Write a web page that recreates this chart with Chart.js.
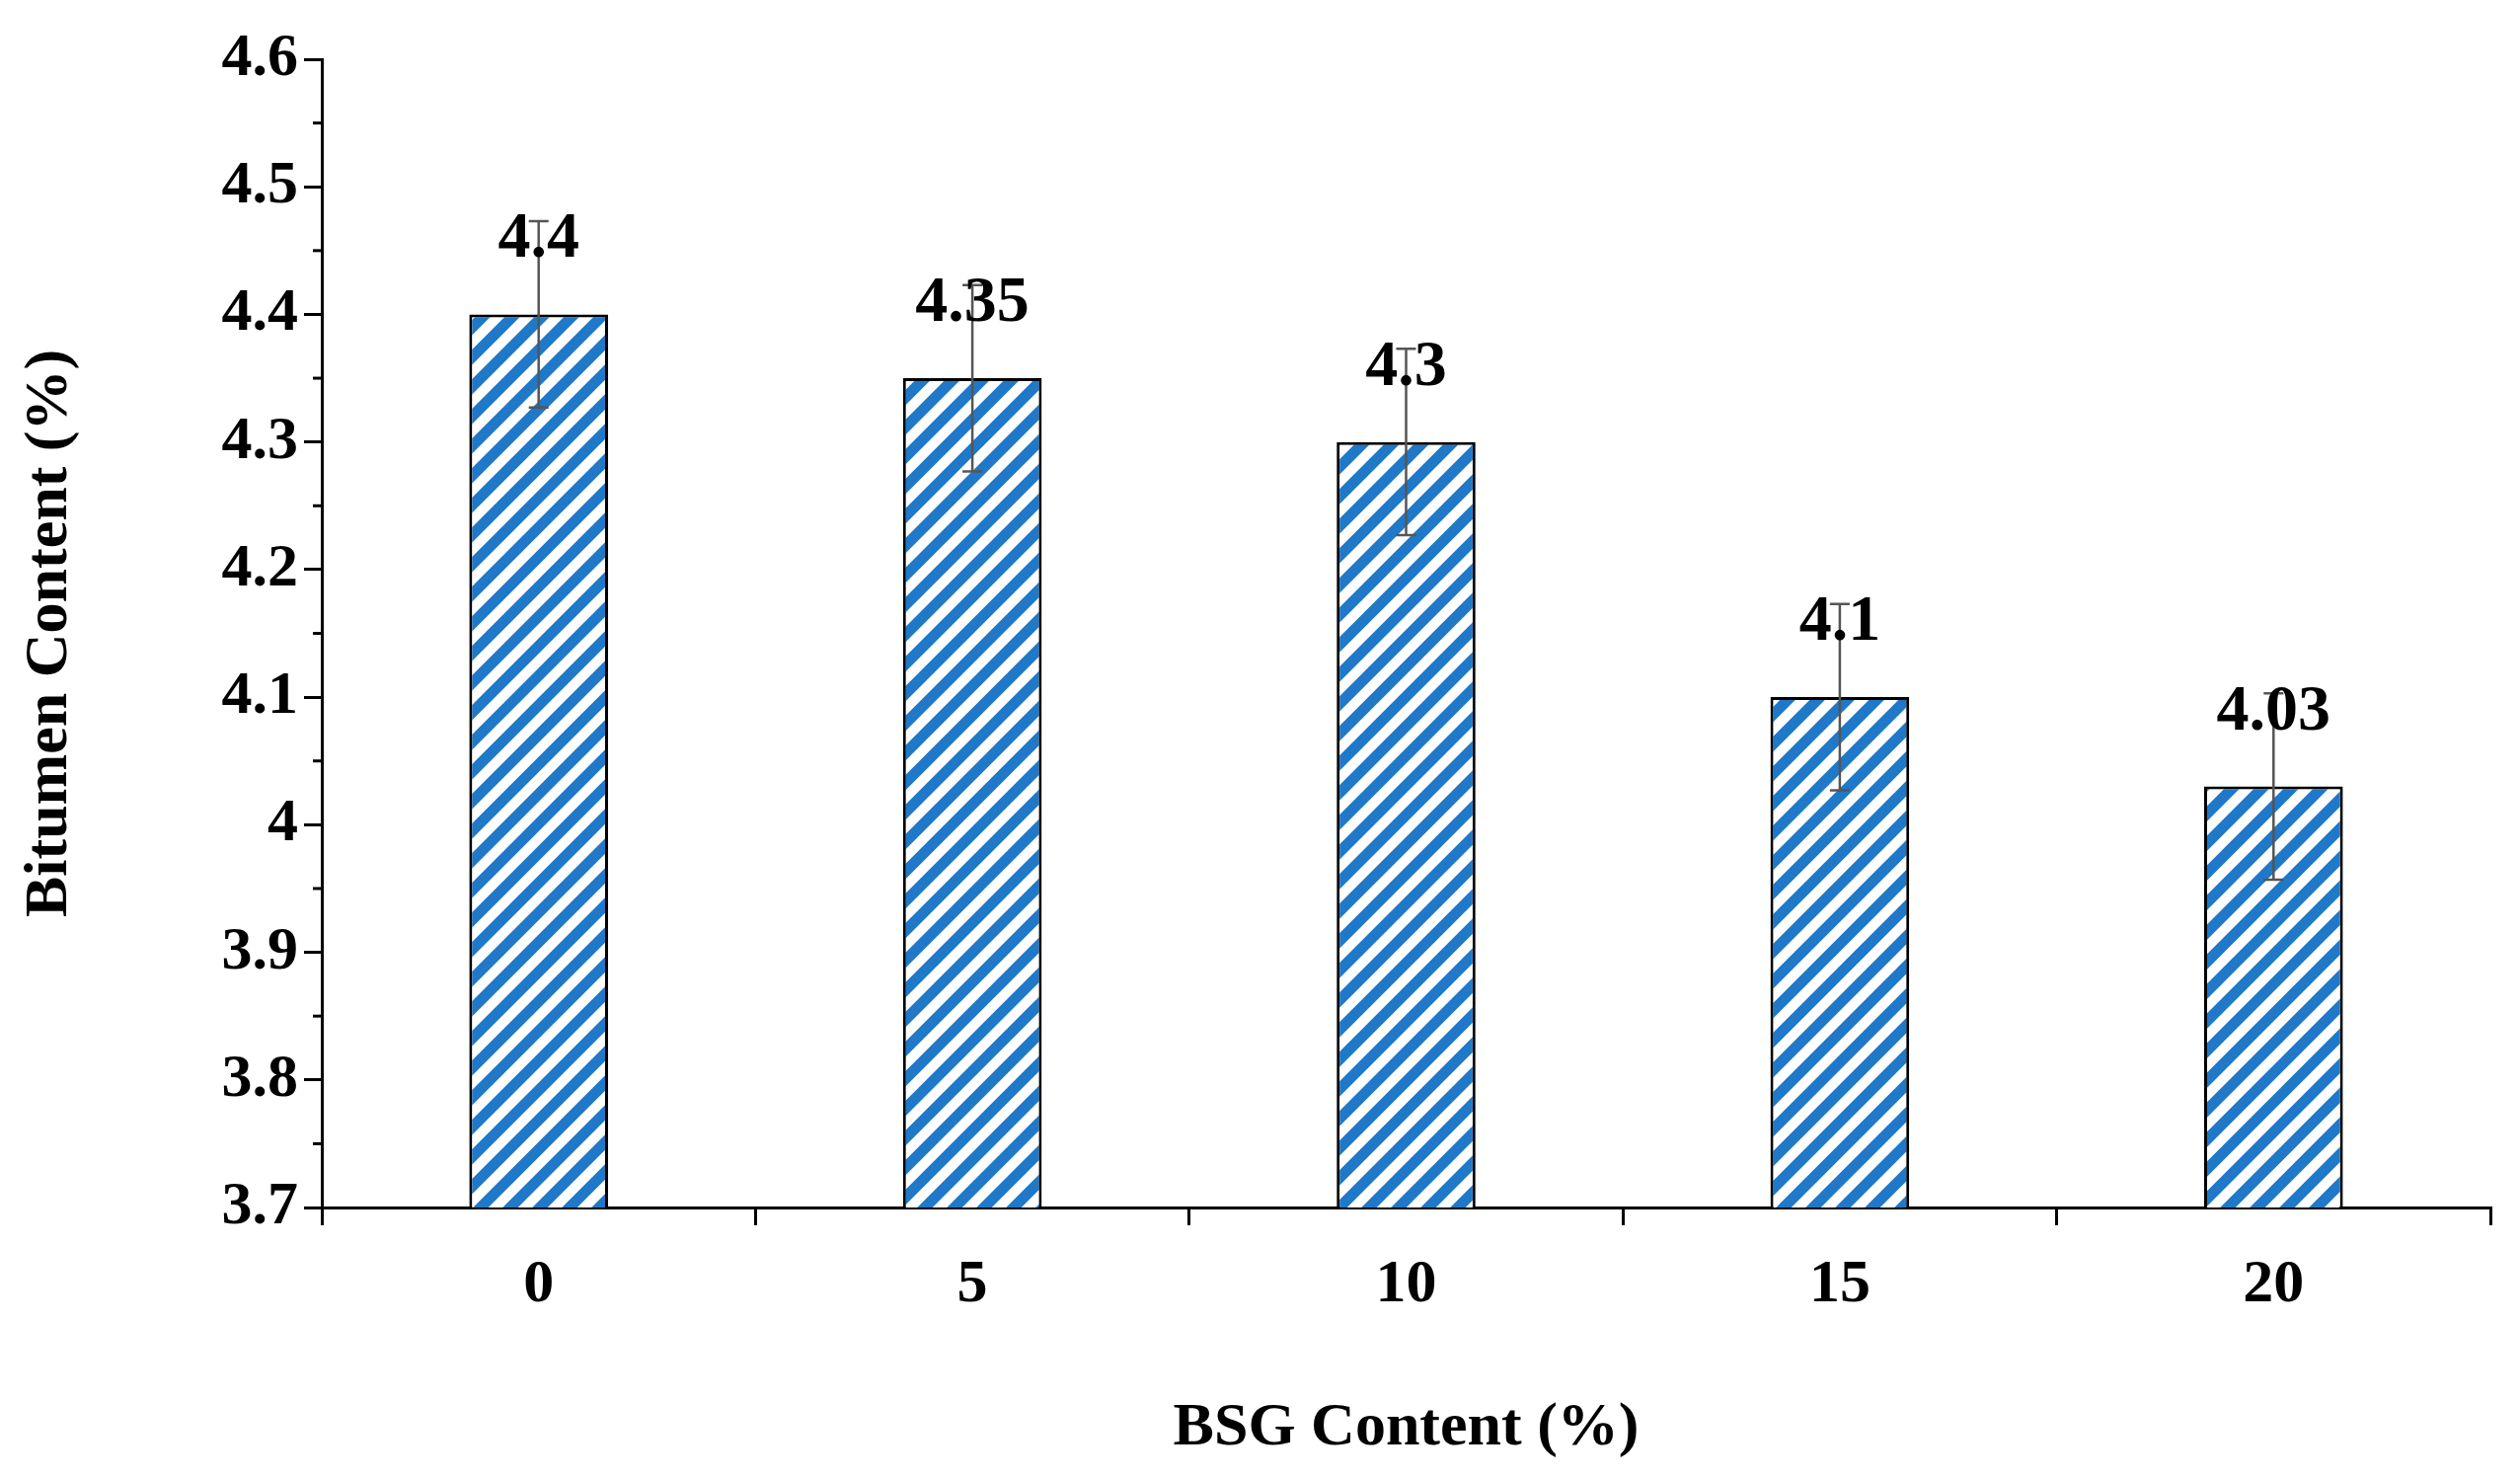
<!DOCTYPE html>
<html><head><meta charset="utf-8">
<script src="https://cdn.jsdelivr.net/npm/chart.js@4"></script>
<style>html,body{margin:0;background:#fff}#w{width:2553px;height:1498px}</style>
</head><body><div id="w"><canvas id="c"></canvas></div>
<script>
const categories = ["0","5","10","15","20"];
const values = [4.4, 4.35, 4.3, 4.1, 4.03];
const errors = [0.073, 0.073, 0.073, 0.073, 0.073];
const labels = ["4.4","4.35","4.3","4.1","4.03"];
const FONT = "'Liberation Serif','Times New Roman',serif";

function makePattern(){
  const s=30, c=document.createElement('canvas'); c.width=s; c.height=s;
  const g=c.getContext('2d'); g.fillStyle='#fff'; g.fillRect(0,0,s,s);
  g.strokeStyle='#1f78c8'; g.lineWidth=11; g.lineCap='square';
  for(let k=-1;k<=1;k++){g.beginPath();g.moveTo(k*s-s,2*s);g.lineTo(k*s+2*s,-s);g.stroke();}
  return document.getElementById('c').getContext('2d').createPattern(c,'repeat');
}
const extras={id:'extras',afterDatasetsDraw(ch){
  const ctx=ch.ctx,y=ch.scales.y,x=ch.scales.x,meta=ch.getDatasetMeta(0);
  ctx.save();
  meta.data.forEach((b,i)=>{
    const t=y.getPixelForValue(values[i]+errors[i]),bo=y.getPixelForValue(values[i]-errors[i]);
    ctx.strokeStyle='#555';ctx.lineWidth=2.5;ctx.beginPath();
    ctx.moveTo(b.x,t);ctx.lineTo(b.x,bo);ctx.moveTo(b.x-10,t);ctx.lineTo(b.x+10,t);
    ctx.moveTo(b.x-10,bo);ctx.lineTo(b.x+10,bo);ctx.stroke();
    ctx.fillStyle='#000';ctx.font="bold 66px "+FONT;ctx.textAlign='center';ctx.textBaseline='bottom';
    ctx.fillText(labels[i],b.x,b.y-42);
  });
  ctx.strokeStyle='#000';ctx.lineWidth=3;
  for(let v=3.7;v<4.6;v+=0.1){
    const p=y.getPixelForValue(v+0.05);ctx.beginPath();ctx.moveTo(x.left,p);ctx.lineTo(x.left-9,p);ctx.stroke();
  }
  ctx.restore();
}};
new Chart(document.getElementById('c'),{
  type:'bar',
  data:{labels:categories,datasets:[{data:values,backgroundColor:makePattern(),borderColor:'#000',borderWidth:3,categoryPercentage:1,barPercentage:0.32}]},
  plugins:[extras],
  options:{responsive:true,maintainAspectRatio:false,animation:false,
    layout:{padding:{left:10,right:30,top:60,bottom:10}},
    plugins:{legend:{display:false},tooltip:{enabled:false}},
    scales:{
      x:{grid:{offset:true,drawOnChartArea:false,color:'#000',lineWidth:3,tickLength:18},border:{color:'#000',width:3},
        ticks:{color:'#000',font:{family:FONT,size:62,weight:'bold'},padding:24},
        title:{display:true,text:'BSG Content (%)',color:'#000',font:{family:FONT,size:62,weight:'bold'},padding:{top:50}},
        afterFit(s){s.height=265;}},
      y:{min:3.7,max:4.6,grid:{drawOnChartArea:false,color:'#000',lineWidth:3,tickLength:18},border:{color:'#000',width:3},
        ticks:{stepSize:0.1,color:'#000',font:{family:FONT,size:62,weight:'bold'},padding:6,
          callback:v=>String(Math.round(v*10)/10)},
        title:{display:true,text:'Bitumen Content (%)',color:'#000',font:{family:FONT,size:62,weight:'bold'}},
        afterFit(s){s.width=316;}}
    }}
});
</script></body></html>
